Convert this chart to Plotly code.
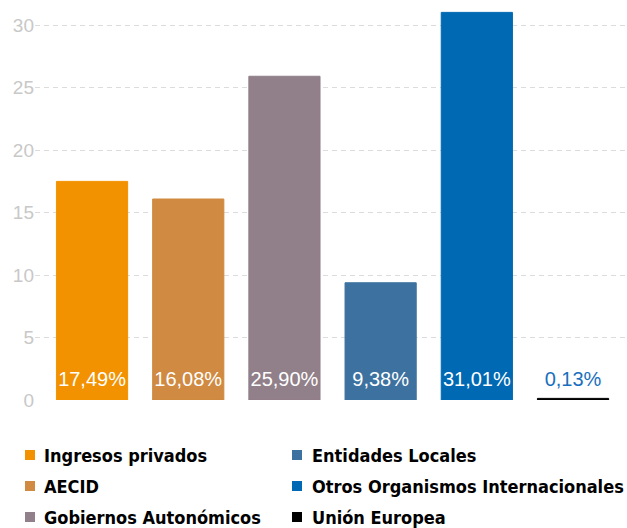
import plotly.graph_objects as go

categories = ["Ingresos privados", "AECID", "Gobiernos Autonómicos",
              "Entidades Locales", "Otros Organismos Internacionales", "Unión Europea"]
values = [17.49, 16.08, 25.90, 9.38, 31.01, 0.13]
labels = ["17,49%", "16,08%", "25,90%", "9,38%", "31,01%", "0,13%"]
colors = ["#F39200", "#D08A41", "#917F89", "#3D72A0", "#0069B4", "#000000"]
label_colors = ["#FFFFFF", "#FFFFFF", "#FFFFFF", "#FFFFFF", "#FFFFFF", "#1A6FBD"]
y_ticks = [0, 5, 10, 15, 20, 25, 30]

# layout geometry (pixels)
W, H = 627, 528
PLOT_L, PLOT_R, PLOT_T, PLOT_B = 35, 627, 0, 400
LABEL_Y = 1.5
# legend layout: column-major, 3 rows x 2 columns
LEG_COL_SQ = [25, 292]
LEG_COL_TX = [42, 310]
LEG_ROW_Y = [455, 486, 517]
SQ = 10


def px2x(px):
    return (px - PLOT_L) / (PLOT_R - PLOT_L)


def py2y(py):
    return (PLOT_B - py) / (PLOT_B - PLOT_T)


fig = go.Figure()
for cat, val, col in zip(categories, values, colors):
    fig.add_trace(go.Bar(
        x=[cat], y=[val], name=cat, width=0.74,
        marker=dict(color=col, line=dict(color=col, width=1)),
        hoverinfo="skip", showlegend=False,
    ))

fig.add_trace(go.Scatter(
    x=categories, y=[LABEL_Y] * len(categories), mode="text",
    text=labels, textposition="middle center",
    textfont=dict(family="Liberation Sans, Arial, sans-serif", size=20, color=label_colors),
    showlegend=False, hoverinfo="skip",
))

shapes = []
annotations = []
for i, (cat, col) in enumerate(zip(categories, colors)):
    c, r = divmod(i, 3)
    cy = LEG_ROW_Y[r]
    shapes.append(dict(
        type="rect", xref="paper", yref="paper",
        x0=px2x(LEG_COL_SQ[c]), x1=px2x(LEG_COL_SQ[c] + SQ),
        y0=py2y(cy - SQ / 2), y1=py2y(cy + SQ / 2),
        fillcolor=col, line=dict(width=0),
    ))
    annotations.append(dict(
        text=cat, xref="paper", yref="paper",
        x=px2x(LEG_COL_TX[c]), y=py2y(cy), xanchor="left", yanchor="middle",
        showarrow=False,
        font=dict(family="DejaVu Sans Condensed, Liberation Sans Narrow, sans-serif",
                  size=18, color="#000000", weight="bold"),
    ))

fig.update_layout(
    width=W, height=H,
    margin=dict(l=PLOT_L, r=W - PLOT_R, t=PLOT_T, b=H - PLOT_B, autoexpand=False),
    paper_bgcolor="white", plot_bgcolor="white",
    barmode="overlay",
    showlegend=False,
    hovermode=False,
    shapes=shapes,
    annotations=annotations,
    xaxis=dict(
        type="category", categoryorder="array", categoryarray=categories,
        range=[-0.593, 5.561], showticklabels=False, showgrid=False,
        zeroline=False, showline=False, ticks="",
    ),
    yaxis=dict(
        range=[0, 32], tickvals=y_ticks, ticktext=[str(v) for v in y_ticks],
        showgrid=True, gridcolor="#DCDCDC", gridwidth=1, griddash="5px,4px",
        zeroline=False, showline=False, ticks="", automargin=False,
        tickfont=dict(family="Liberation Sans, Arial, sans-serif", size=19, color="#C8C8C8"),
        ticklabelstandoff=0,
    ),
)

fig.write_html("out.html", config={"displayModeBar": False},
               post_script="document.body.style.margin='0';")
